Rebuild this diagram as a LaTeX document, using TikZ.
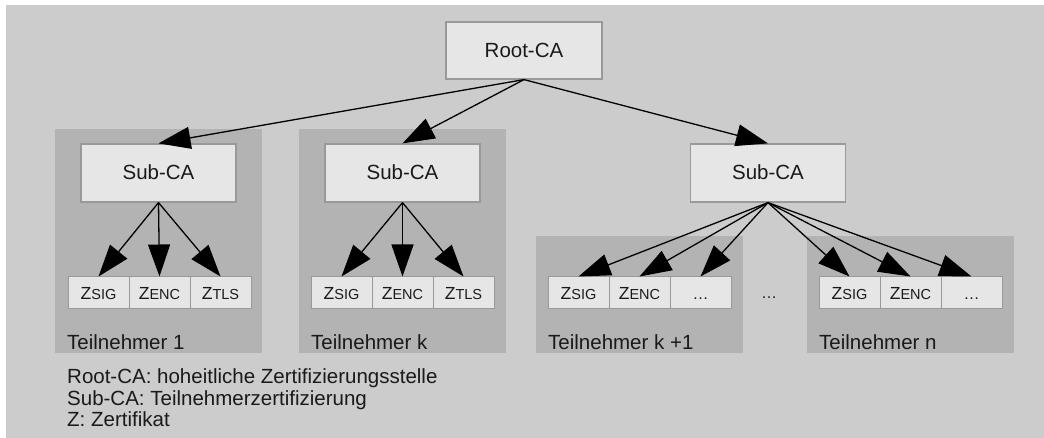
\documentclass[tikz,border=0pt]{standalone}
\usepackage{fontspec}
\setmainfont{Liberation Sans}
\usetikzlibrary{arrows.meta}

\definecolor{bgfill}{HTML}{CCCCCC}
\definecolor{panelfill}{HTML}{B3B3B3}
\definecolor{boxfill}{HTML}{E6E6E6}
\definecolor{boxline}{HTML}{999999}
\definecolor{ink}{HTML}{1A1A1A}

\tikzset{
  box/.style={draw=boxline, fill=boxfill, line width=1.2pt,
    minimum width=155pt, minimum height=57pt, inner sep=0pt,
    text height=14pt, text depth=0pt, text=ink,
    font=\fontsize{20.5}{24}\selectfont},
  cell/.style={draw=boxline, fill=boxfill, line width=1pt,
    minimum width=61pt, minimum height=32pt, inner sep=0pt,
    text height=12.5pt, text depth=0pt, text=ink,
    font=\fontsize{17.5}{19}\selectfont},
  panel/.style={fill=panelfill, inner sep=0pt, anchor=north west},
  caption/.style={anchor=base west, inner sep=0pt, text=ink,
    font=\fontsize{20.5}{24}\selectfont},
  link/.style={-{Triangle[length=32pt,width=22pt]}, line width=1.3pt, black},
}
\newcommand{\zc}[1]{Z{\fontsize{14.5}{16}\selectfont #1}}

\begin{document}
\begin{tikzpicture}[x=1pt, y=-1pt]
  \useasboundingbox (0,0) rectangle (1044,438);
  \fill[white] (0,0) rectangle (1044,438);
  \fill[bgfill] (6,5) rectangle (1044,438);

  % participant panels
  \node[panel, minimum width=207pt, minimum height=224pt] (p1)  at (55,129)  {};
  \node[panel, minimum width=207pt, minimum height=224pt] (pk)  at (299,129) {};
  \node[panel, minimum width=207pt, minimum height=117pt] (pk1) at (536,236) {};
  \node[panel, minimum width=207pt, minimum height=117pt] (pn)  at (807,236) {};

  % certification authorities
  \node[box, minimum width=156pt] (root) at (524,50.5) {Root-CA};
  \node[box, minimum height=58pt] (s1) at (158.5,173) {Sub-CA};
  \node[box, minimum height=58pt] (sk) at (402.5,173) {Sub-CA};
  \node[box, minimum height=58pt] (s3) at (768,173)   {Sub-CA};

  % certificates
  \node[cell] (a1) at (98.5,293)  {\zc{SIG}};
  \node[cell] (a2) at (159.5,293) {\zc{ENC}};
  \node[cell] (a3) at (220.5,293) {\zc{TLS}};

  \node[cell] (b1) at (341.5,293) {\zc{SIG}};
  \node[cell] (b2) at (402.5,293) {\zc{ENC}};
  \node[cell] (b3) at (463.5,293) {\zc{TLS}};

  \node[cell] (c1) at (578.5,293) {\zc{SIG}};
  \node[cell] (c2) at (639.5,293) {\zc{ENC}};
  \node[cell, font=\fontsize{16}{18}\selectfont] (c3) at (700.5,293) {\dots};

  \node[cell] (d1) at (849.5,293) {\zc{SIG}};
  \node[cell] (d2) at (910.5,293) {\zc{ENC}};
  \node[cell, font=\fontsize{16}{18}\selectfont] (d3) at (971.5,293) {\dots};

  \node[anchor=base, inner sep=0pt, text=ink, font=\fontsize{16}{18}\selectfont]
    (gap) at (769,299) {\dots};

  % participant captions
  \node[caption] (t1)  at (67,349)  {Teilnehmer 1};
  \node[caption] (tk)  at (311,349) {Teilnehmer k};
  \node[caption] (tk1) at (548,349) {Teilnehmer k +1};
  \node[caption] (tn)  at (819,349) {Teilnehmer n};

  % legend
  \node[caption] (l1) at (67,383) {Root-CA: hoheitliche Zertifizierungsstelle};
  \node[caption] (l2) at (67,405) {Sub-CA: Teilnehmerzertifizierung};
  \node[caption] (l3) at (67,426) {Z: Zertifikat};

  % certification links
  \foreach \s in {s1,sk,s3} \draw[link] (root.south) -- (\s.north);
  \foreach \c in {a1,a2,a3} \draw[link] (s1.south) -- (\c.north);
  \foreach \c in {b1,b2,b3} \draw[link] (sk.south) -- (\c.north);
  \foreach \c in {c1,c2,c3,d1,d2,d3} \draw[link] (s3.south) -- (\c.north);
\end{tikzpicture}
\end{document}
